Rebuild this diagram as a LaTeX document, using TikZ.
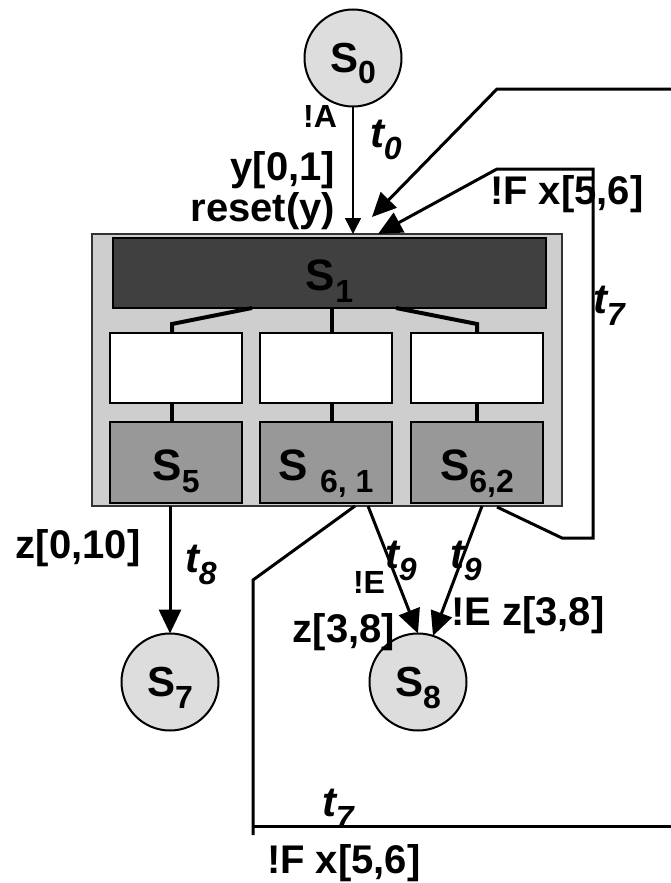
\documentclass[tikz,border=0pt]{standalone}
\usepackage{fontspec}
\setmainfont{Liberation Sans}
\usetikzlibrary{arrows.meta}
\definecolor{boxgray}{RGB}{206,206,206}
\definecolor{topgray}{RGB}{64,64,64}
\definecolor{midgray}{RGB}{152,152,152}
\definecolor{stategray}{RGB}{221,221,221}
\newcommand{\fsz}[1]{\fontsize{#1}{#1}\selectfont}
\newcommand{\idx}[1]{\raisebox{-12pt}{\fsz{32}#1}}
\newcommand{\tlab}[1]{\fsz{42}\itshape t\idx{#1}}

\begin{document}
\begin{tikzpicture}[x=1pt,y=-1pt,
  every node/.style={inner sep=0pt,outer sep=0pt,font=\fsz{40}\bfseries},
  state/.style={circle,draw,line width=2pt,fill=stategray,minimum size=97pt,text height=28pt,text depth=0pt,font=\fsz{42}\bfseries},
  substate/.style={draw,line width=1.5pt,minimum width=132pt},
  leaf/.style={substate,fill=midgray,minimum height=81pt,text height=35pt,text depth=0pt,font=\fsz{44}\bfseries},
  link/.style={line width=3pt},
  >={Triangle[length=24pt,width=22pt]}]
\useasboundingbox (0,0) rectangle (671,883);
\node[draw=black!80,line width=1.5pt,fill=boxgray,minimum width=470pt,minimum height=272pt] (par) at (327,370) {};
\node[substate,fill=topgray,minimum width=433pt,minimum height=70pt,text height=34pt,text depth=0pt,font=\fsz{44}\bfseries] (s1) at (329.5,273) {S\idx{1}};
\node[substate,fill=white,minimum height=70pt] (w1) at (176,368) {};
\node[substate,fill=white,minimum height=70pt] (w2) at (326,368) {};
\node[substate,fill=white,minimum height=70pt] (w3) at (477,368) {};
\node[leaf] (s5) at (176,462.5) {S\idx{5}};
\node[leaf] (s61) at (326,462.5) {S \idx{6, 1}};
\node[leaf] (s62) at (477,462.5) {S\idx{6,2}};
\node[state] (s0) at (353,58) {S\idx{0}};
\node[state] (s7) at (170,682) {S\idx{7}};
\node[state] (s8) at (418,682) {S\idx{8}};

\draw[line width=4pt] (s1.south -| 252,0) -- (172,324) -- (w1.north -| 172,0);
\draw[line width=4pt] (s1.south -| 332,0) -- (w2.north -| 332,0);
\draw[line width=4pt] (s1.south -| 396,0) -- (477,324) -- (w3.north);
\draw[line width=4pt] (w1.south -| 172,0) -- (s5.north -| 172,0);
\draw[line width=4pt] (w2.south -| 332,0) -- (s61.north -| 332,0);
\draw[line width=4pt] (w3.south) -- (s62.north);

\node[anchor=base east,font=\fsz{32}\bfseries] (lA) at (337,127) {!A};
\node[anchor=base east] (ly) at (335,180) {y[0,1]};
\node[anchor=base east] (lreset) at (335,221) {reset(y)};
\node[anchor=base west] (t0) at (370,147) {\tlab{0}};
\node[anchor=base west] (lF) at (490,204) {!F x[5,6]};
\node[anchor=base west] (t7r) at (593,313) {\tlab{7}};
\node[anchor=base west] (lz) at (16,558) {z[0,10]};
\node[anchor=base west] (t8) at (185,572) {\tlab{8}};
\node[anchor=base west,font=\fsz{32}\bfseries] (lE) at (353,593) {!E};
\node[anchor=base west] (t9a) at (385,568) {\tlab{9}};
\node[anchor=base west] (t9b) at (450,568) {\tlab{9}};
\node[anchor=base west] (lEz) at (451,625) {!E z[3,8]};
\node[anchor=base east] (lz38) at (395,642) {z[3,8]};
\node[anchor=base west] (t7b) at (322,816) {\tlab{7}};
\node[anchor=base west] (lFb) at (267,873) {!F x[5,6]};

\coordinate (o1) at (368,506);
\coordinate (o2) at (482,506);
\coordinate (r1) at (497,507);
\coordinate (r2) at (562,538);
\coordinate (r3) at (593,538);
\coordinate (r4) at (593,169);
\coordinate (r5) at (497,169);
\coordinate (e1) at (671,89);
\coordinate (e2) at (497,89);
\coordinate (h1) at (372,217);
\coordinate (l1) at (355,506);
\coordinate (l2) at (253,580);
\coordinate (l3) at (253,835);
\coordinate (l4) at (253,826);
\coordinate (l5) at (671,826);

\draw[line width=1.5pt,-{Triangle[length=16pt,width=16pt]}] (s0) -- (s0 |- par.north);
\draw[link,->] (s7 |- par.south) -- (s7);
\draw[link,->] (o1) -- (s8.north);
\draw[link,->] (o2) -- (s8.72);
\draw[link,->] (r1) -- (r2) -- (r3) -- (r4) -- (r5) -- (par.north -| 378,0);
\draw[link,->] (e1) -- (e2) -- (h1);
\draw[link] (l1) -- (l2) -- (l3);
\draw[link] (l4) -- (l5);
\end{tikzpicture}
\end{document}
